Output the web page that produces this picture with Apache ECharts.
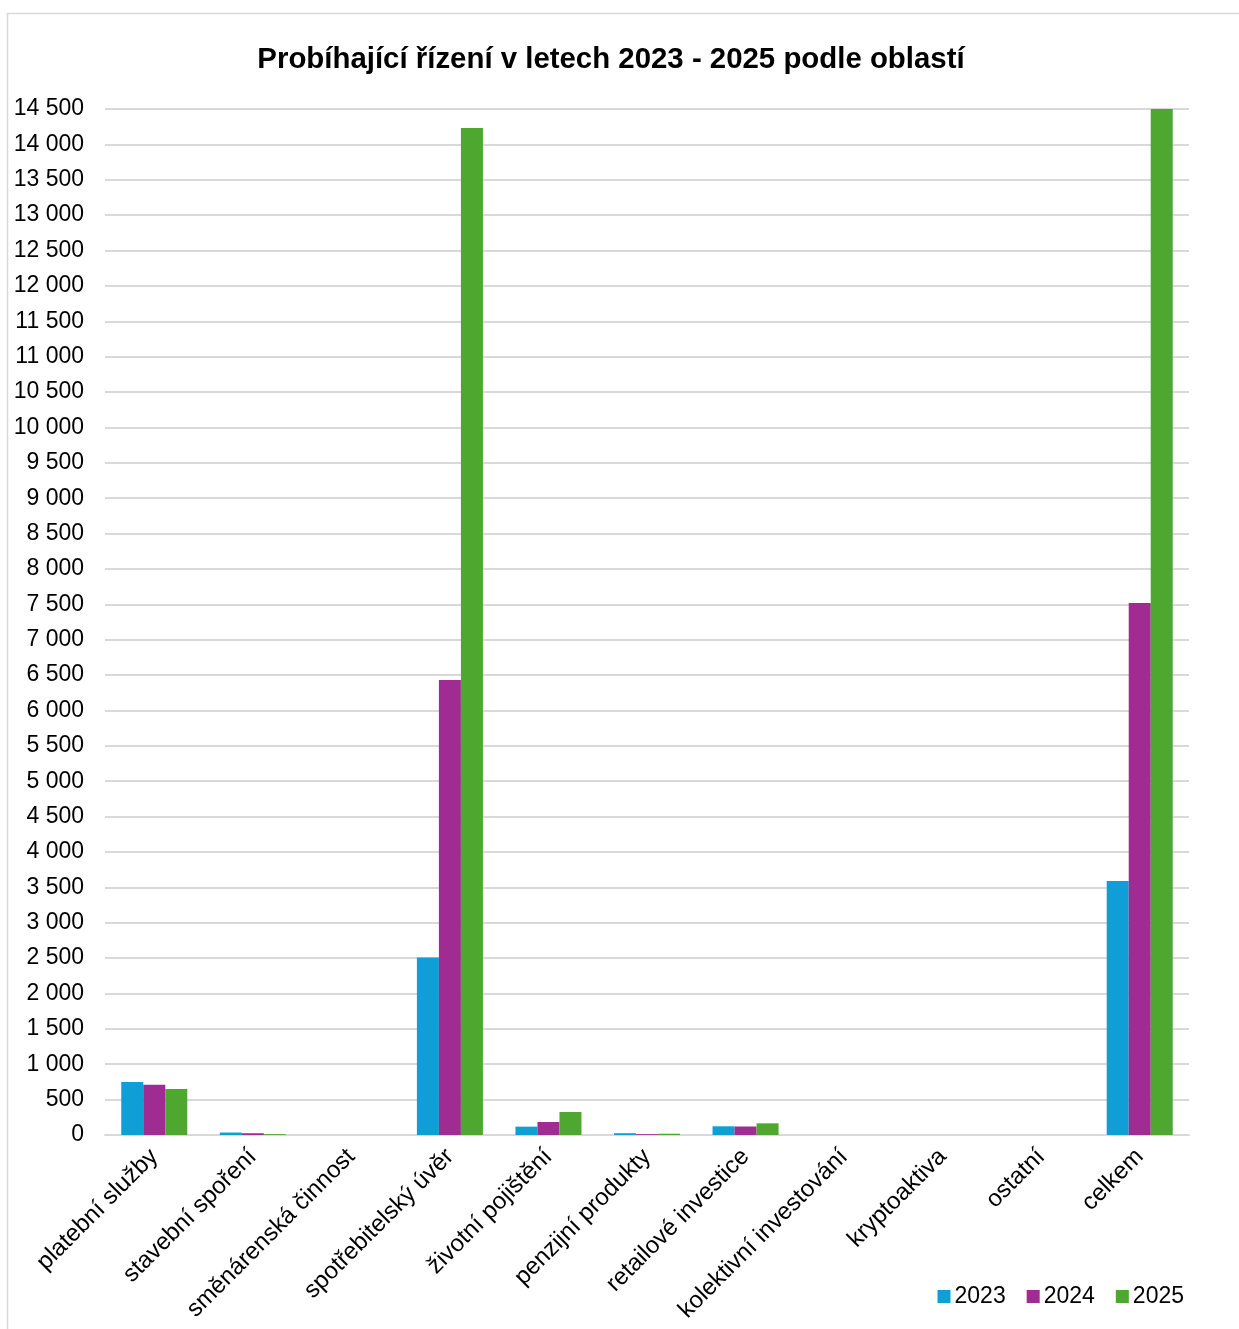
<!DOCTYPE html>
<html>
<head>
<meta charset="utf-8">
<title>Probíhající řízení</title>
<script src="https://cdn.jsdelivr.net/npm/echarts@6/dist/echarts.min.js"></script>
<style>
  html, body { margin: 0; padding: 0; background: #fff; }
  #chart { width: 1239px; height: 1329px; }
</style>
</head>
<body>
<div id="chart"></div>
<script>
// Categories (oblasti)
const categories = [
  'platební služby', 'stavební spoření', 'směnárenská činnost', 'spotřebitelský úvěr',
  'životní pojištění', 'penzijní produkty', 'retailové investice', 'kolektivní investování',
  'kryptoaktiva', 'ostatní', 'celkem'
];

// Ongoing proceedings per year
const years = ['2023', '2024', '2025'];
const values2023 = [750, 35, 0, 2510, 118, 25, 123, 0, 0, 0, 3590];
const values2024 = [711, 25, 0, 6430, 184, 12, 120, 0, 0, 0, 7520];
const values2025 = [650, 12, 0, 14230, 325, 18, 165, 0, 0, 0, 15400];

const yMax = 14500;
const yStep = 500;

const colors = ['#0F9ED5', '#A02B93', '#4EA72E'];
const font = '"Liberation Sans", Arial, sans-serif';

function fmt(v) {
  return String(v).replace(/\B(?=(\d{3})+(?!\d))/g, ' ');
}

const seriesData = [values2023, values2024, values2025];

const chart = echarts.init(document.getElementById('chart'), null, { renderer: 'canvas' });

chart.setOption({
  animation: false,
  backgroundColor: '#fff',
  color: colors,
  textStyle: { fontFamily: font, color: '#000' },
  title: {
    text: 'Probíhající řízení v letech 2023 - 2025 podle oblastí',
    left: 606,
    top: 40,
    textAlign: 'center',
    textStyle: { fontFamily: font, fontSize: 29.4, fontWeight: 'bold', color: '#000' }
  },
  graphic: [{
    type: 'rect',
    shape: { x: 7.5, y: 13.5, width: 1240, height: 1330 },
    style: { fill: 'none', stroke: '#d9d9d9', lineWidth: 1.5 },
    silent: true
  }],
  legend: {
    data: years,
    right: 50,
    top: 1280,
    itemWidth: 13,
    itemHeight: 13,
    itemGap: 21,
    icon: 'rect',
    textStyle: { fontFamily: font, fontSize: 23, color: '#000', padding: [0, 0, 0, -1] }
  },
  grid: { left: 105, right: 50, top: 109, bottom: 194, containLabel: false },
  xAxis: {
    type: 'category',
    data: categories,
    axisLine: { show: true, lineStyle: { color: '#d9d9d9', width: 2 } },
    axisTick: { show: false },
    axisLabel: {
      interval: 0,
      rotate: 45,
      margin: 18,
      fontFamily: font,
      fontSize: 24,
      color: '#000'
    }
  },
  yAxis: {
    type: 'value',
    min: 0,
    max: yMax,
    interval: yStep,
    axisLine: { show: false },
    axisTick: { show: false },
    splitLine: { lineStyle: { color: '#d9d9d9', width: 2 } },
    axisLabel: {
      margin: 21,
      fontFamily: font,
      fontSize: 23,
      color: '#000',
      padding: [3, 0, 0, 0],
      formatter: fmt
    }
  },
  series: years.map((y, i) => ({
    name: y,
    type: 'bar',
    data: seriesData[i],
    barGap: '0%',
    barCategoryGap: '33%',
    clip: true,
    itemStyle: { color: colors[i] }
  }))
});
</script>
</body>
</html>
